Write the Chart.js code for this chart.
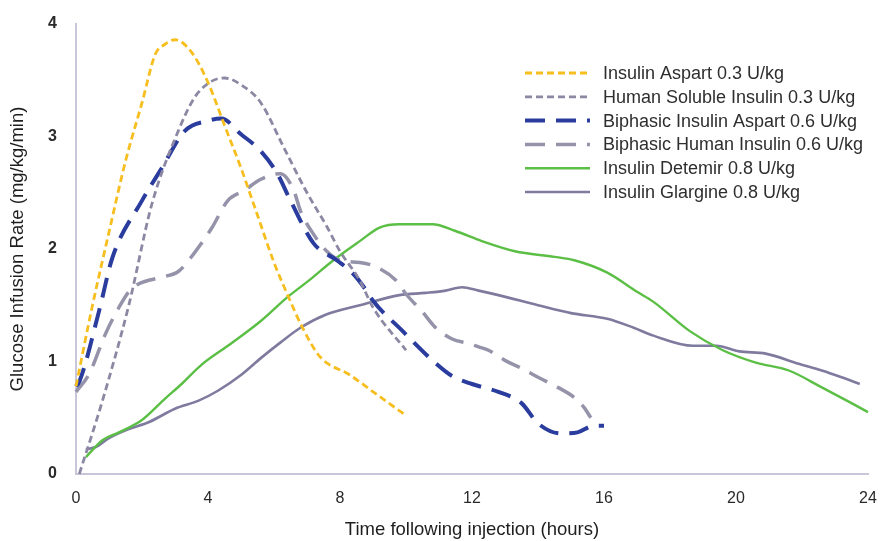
<!DOCTYPE html>
<html>
<head>
<meta charset="utf-8">
<script src="https://cdn.jsdelivr.net/npm/chart.js@4/dist/chart.umd.min.js"></script>
<style>
  html, body { margin: 0; padding: 0; background: #ffffff; }
  #wrap { width: 880px; height: 541px; position: relative; }
</style>
</head>
<body>
<div id="wrap"><canvas id="c" width="880" height="541"></canvas></div>
<script>
// ---- Data ----
const xTicks = [0, 4, 8, 12, 16, 20, 24];
const yTicks = [0, 1, 2, 3, 4];
const seriesLabels = [
  'Insulin Aspart 0.3 U/kg',
  'Human Soluble Insulin 0.3 U/kg',
  'Biphasic Insulin Aspart 0.6 U/kg',
  'Biphasic Human Insulin 0.6 U/kg',
  'Insulin Detemir 0.8 U/kg',
  'Insulin Glargine 0.8 U/kg'
];

const aspartHours = [0, 0.5, 1, 1.5, 2, 2.4, 2.7, 3, 3.5, 4, 4.5, 5, 5.5, 6, 6.4, 6.9, 7.4, 8.3, 9.1, 10];
const aspartRate  = [0.78, 1.5, 2.15, 2.78, 3.3, 3.73, 3.82, 3.86, 3.75, 3.48, 3.1, 2.72, 2.3, 1.88, 1.6, 1.28, 1.04, 0.88, 0.71, 0.52];

const solubleHours = [0.1, 0.8, 1.6, 2.3, 3.1, 3.6, 4.1, 4.5, 5, 5.6, 6.3, 7, 7.6, 8, 8.6, 9, 10];
const solubleRate  = [0, 0.65, 1.5, 2.4, 3.05, 3.35, 3.49, 3.52, 3.46, 3.3, 2.9, 2.5, 2.2, 1.98, 1.72, 1.48, 1.1];

const biAspartHours = [0, 0.1, 0.7, 1.1, 2, 2.6, 3.3, 4, 4.4, 5, 5.6, 6.1, 6.5, 7.2, 7.9, 8.4, 8.8, 9, 9.9, 10.8, 11.4, 12, 12.8, 13.5, 14, 14.7, 15.2, 15.7, 16];
const biAspartRate  = [0.78, 0.82, 1.45, 1.92, 2.43, 2.72, 3.05, 3.14, 3.16, 3.02, 2.87, 2.67, 2.43, 2.05, 1.9, 1.78, 1.63, 1.54, 1.27, 1.01, 0.87, 0.8, 0.73, 0.63, 0.45, 0.36, 0.37, 0.43, 0.43];

const biHumanHours = [0, 0.4, 0.9, 1.3, 1.6, 1.9, 2.6, 3.1, 3.6, 4.1, 4.6, 5.1, 5.6, 6.2, 6.6, 6.8, 7.2, 7.6, 8, 8.6, 9.1, 9.7, 10, 10.5, 10.9, 11.4, 11.9, 12.2, 12.5, 13, 13.5, 14, 14.6, 15.1, 15.4, 15.6];
const biHumanRate  = [0.73, 0.89, 1.25, 1.48, 1.62, 1.69, 1.75, 1.8, 1.97, 2.18, 2.43, 2.52, 2.62, 2.67, 2.52, 2.34, 2.13, 1.98, 1.9, 1.88, 1.84, 1.72, 1.6, 1.44, 1.3, 1.2, 1.16, 1.13, 1.1, 1.01, 0.94, 0.86, 0.77, 0.68, 0.59, 0.5];

const detemirHours = [0.3, 0.8, 1.3, 2, 2.7, 3.2, 3.8, 4.7, 5.6, 6.4, 7.1, 7.8, 8.6, 9.2, 9.8, 10.8, 11.5, 12.3, 13.3, 14.5, 15.1, 16.1, 17, 17.5, 18.6, 19.6, 20.6, 21.6, 22.6, 23.5, 24];
const detemirRate  = [0.15, 0.3, 0.37, 0.48, 0.67, 0.8, 0.97, 1.16, 1.36, 1.57, 1.73, 1.9, 2.07, 2.19, 2.22, 2.22, 2.16, 2.07, 1.98, 1.93, 1.9, 1.79, 1.62, 1.53, 1.27, 1.1, 0.99, 0.92, 0.77, 0.63, 0.55];

const glargineHours = [0.3, 0.6, 1, 1.6, 2.2, 3, 3.7, 4.3, 5, 5.6, 6.2, 6.8, 7.6, 8.6, 9.8, 10.6, 11.2, 11.7, 12.2, 12.8, 14, 15, 16.1, 16.9, 17.5, 18.7, 19.4, 20.1, 20.9, 21.9, 22.6, 23.2, 23.75];
const glargineRate  = [0.22, 0.24, 0.32, 0.4, 0.46, 0.58, 0.65, 0.74, 0.88, 1.03, 1.17, 1.3, 1.42, 1.5, 1.59, 1.61, 1.63, 1.66, 1.63, 1.59, 1.5, 1.43, 1.38, 1.3, 1.23, 1.14, 1.14, 1.09, 1.07, 0.98, 0.92, 0.86, 0.8];

const toPoints = (xs, ys) => xs.map((x, i) => ({ x: x, y: ys[i] }));

const FONT = '"Liberation Sans", Arial, sans-serif';

const insideLegend = {
  id: 'insideLegend',
  afterDraw(chart) {
    const ctx = chart.ctx;
    const x0 = 525, x1 = 590, xt = 603, y0 = 73, dy = 23.8;
    chart.data.datasets.forEach((ds, i) => {
      const y = y0 + i * dy;
      ctx.save();
      ctx.strokeStyle = ds.borderColor;
      ctx.lineWidth = ds.borderWidth;
      ctx.setLineDash(ds.borderDash || []);
      ctx.beginPath();
      ctx.moveTo(x0, y);
      ctx.lineTo(x1, y);
      ctx.stroke();
      ctx.setLineDash([]);
      ctx.fillStyle = '#2e2e2e';
      ctx.font = '18px ' + FONT;
      ctx.textBaseline = 'middle';
      ctx.textAlign = 'left';
      ctx.fillText(ds.label, xt, y + 1);
      ctx.restore();
    });
  }
};

const common = { fill: false, pointRadius: 0, pointHoverRadius: 0, cubicInterpolationMode: 'monotone', clip: false };

new Chart(document.getElementById('c'), {
  type: 'line',
  data: {
    datasets: [
      Object.assign({ label: seriesLabels[0], data: toPoints(aspartHours, aspartRate), borderColor: '#f6be1e', borderWidth: 2.8, borderDash: [7, 4] }, common),
      Object.assign({ label: seriesLabels[1], data: toPoints(solubleHours, solubleRate), borderColor: '#8c88a4', borderWidth: 2.8, borderDash: [7, 4] }, common),
      Object.assign({ label: seriesLabels[2], data: toPoints(biAspartHours, biAspartRate), borderColor: '#2a3c9e', borderWidth: 4, borderDash: [20, 11] }, common),
      Object.assign({ label: seriesLabels[3], data: toPoints(biHumanHours, biHumanRate), borderColor: '#9593a9', borderWidth: 3.5, borderDash: [20, 11] }, common),
      Object.assign({ label: seriesLabels[4], data: toPoints(detemirHours, detemirRate), borderColor: '#5bbf45', borderWidth: 2.4 }, common),
      Object.assign({ label: seriesLabels[5], data: toPoints(glargineHours, glargineRate), borderColor: '#7f7b9f', borderWidth: 2.6 }, common)
    ]
  },
  options: {
    responsive: false,
    animation: false,
    layout: { padding: { left: 0, right: 12, top: 24, bottom: 0 } },
    plugins: { legend: { display: false }, tooltip: { enabled: false } },
    scales: {
      x: {
        type: 'linear',
        min: 0, max: 24,
        afterBuildTicks: (axis) => { axis.ticks = xTicks.map(v => ({ value: v })); },
        afterFit: (axis) => { axis.height = 67; axis.paddingRight = 0; axis.paddingLeft = 0; },
        grid: { display: false, drawTicks: true, tickLength: 7, tickColor: '#c8c6d8' },
        border: { display: true, color: '#c8c6d8', width: 2 },
        ticks: { color: '#2a2a2a', font: { family: FONT, size: 16 }, padding: 8, maxRotation: 0 },
        title: { display: true, text: 'Time following injection (hours)', color: '#1e1e1e', font: { family: FONT, size: 18.5 }, padding: { top: -2, bottom: 0 } }
      },
      y: {
        min: 0, max: 4,
        afterBuildTicks: (axis) => { axis.ticks = yTicks.map(v => ({ value: v })); },
        afterFit: (axis) => { axis.width = 76; },
        grid: { display: false, drawTicks: true, tickLength: 7, tickColor: '#c8c6d8' },
        border: { display: true, color: '#c8c6d8', width: 2 },
        ticks: { color: '#2a2a2a', font: { family: FONT, size: 16, weight: 'bold' }, padding: 12 },
        title: { display: true, text: 'Glucose Infusion Rate (mg/kg/min)', color: '#1e1e1e', font: { family: FONT, size: 18.5 }, padding: { top: 7, bottom: 0 } }
      }
    }
  },
  plugins: [insideLegend]
});
</script>
</body>
</html>
